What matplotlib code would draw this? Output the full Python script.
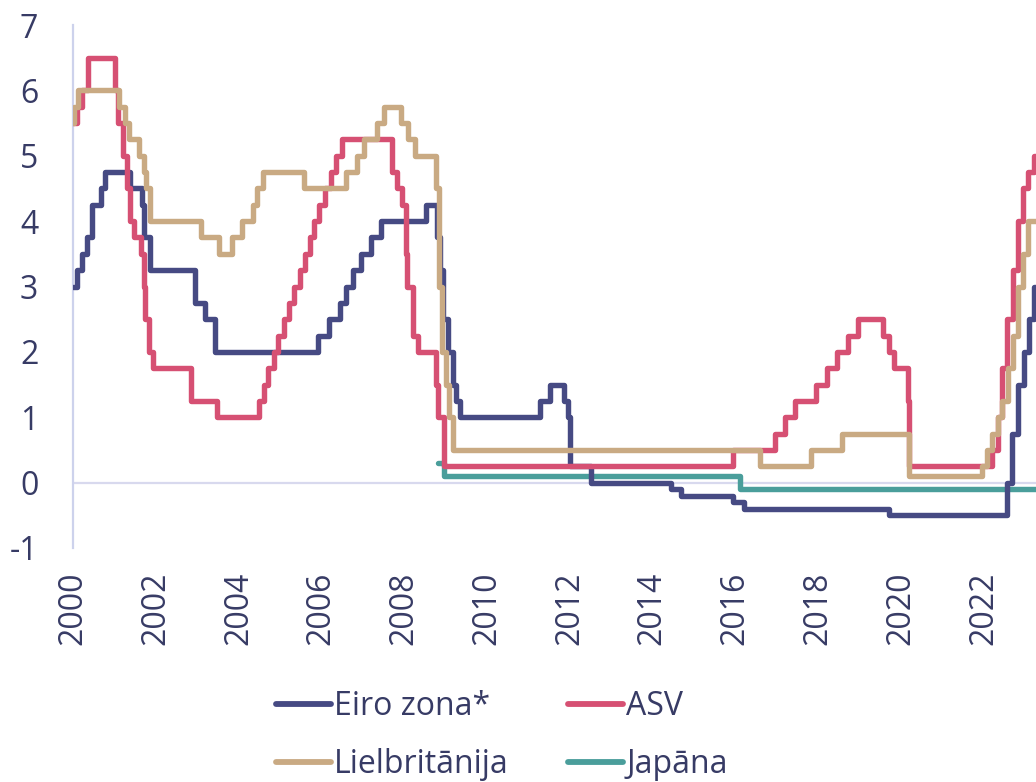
import matplotlib
matplotlib.use("Agg")
import matplotlib.pyplot as plt
import pandas as pd

# ---------------- data (policy rate change dates and levels, %) ----------------
euro_dates = ["2000-01-01", "2000-02-09", "2000-03-22", "2000-05-04", "2000-06-15", "2000-09-06",
              "2000-10-11", "2001-05-15", "2001-08-30", "2001-09-18", "2001-11-14", "2002-12-11",
              "2003-03-12", "2003-06-09", "2005-12-06", "2006-03-08", "2006-06-15", "2006-08-09",
              "2006-10-11", "2006-12-13", "2007-03-14", "2007-06-13", "2008-07-09", "2008-10-15",
              "2008-11-12", "2008-12-10", "2009-01-21", "2009-03-11", "2009-04-08", "2009-05-13",
              "2011-04-13", "2011-07-13", "2011-11-09", "2011-12-14", "2012-01-01", "2012-07-11",
              "2014-06-11", "2014-09-10", "2015-12-09", "2016-03-16", "2019-09-18", "2022-07-27",
              "2022-09-14", "2022-11-02", "2022-12-21", "2023-02-08", "2023-03-22"]
euro_rates = [3.0, 3.25, 3.5, 3.75, 4.25, 4.5,
              4.75, 4.5, 4.25, 3.75, 3.25, 2.75,
              2.5, 2.0, 2.25, 2.5, 2.75, 3.0,
              3.25, 3.5, 3.75, 4.0, 4.25, 3.75,
              3.25, 2.5, 2.0, 1.5, 1.25, 1.0,
              1.25, 1.5, 1.25, 1.0, 0.25, 0.0,
              -0.1, -0.2, -0.3, -0.4, -0.5, 0.0,
              0.75, 1.5, 2.0, 2.5, 3.0]

us_dates = ["2000-01-01", "2000-02-02", "2000-03-21", "2000-05-16", "2001-01-03", "2001-01-31",
            "2001-03-20", "2001-04-18", "2001-05-15", "2001-06-27", "2001-08-21", "2001-09-17",
            "2001-10-02", "2001-11-06", "2001-12-11", "2002-11-06", "2003-06-25", "2004-06-30",
            "2004-08-10", "2004-09-21", "2004-11-10", "2004-12-14", "2005-02-02", "2005-03-22",
            "2005-05-03", "2005-06-30", "2005-08-09", "2005-09-20", "2005-11-01", "2005-12-13",
            "2006-01-31", "2006-03-28", "2006-05-10", "2006-06-29", "2007-09-18", "2007-10-31",
            "2007-12-11", "2008-01-22", "2008-01-30", "2008-03-18", "2008-04-30", "2008-10-08",
            "2008-10-29", "2008-12-16", "2015-12-17", "2016-12-15", "2017-03-16", "2017-06-15",
            "2017-12-14", "2018-03-22", "2018-06-14", "2018-09-27", "2018-12-20", "2019-08-01",
            "2019-09-19", "2019-10-31", "2020-03-04", "2020-03-16", "2022-03-17", "2022-05-05",
            "2022-06-16", "2022-07-28", "2022-09-22", "2022-11-03", "2022-12-15", "2023-02-02",
            "2023-03-23"]
us_rates = [5.5, 5.75, 6.0, 6.5, 6.0, 5.5,
            5.0, 4.5, 4.0, 3.75, 3.5, 3.0,
            2.5, 2.0, 1.75, 1.25, 1.0, 1.25,
            1.5, 1.75, 2.0, 2.25, 2.5, 2.75,
            3.0, 3.25, 3.5, 3.75, 4.0, 4.25,
            4.5, 4.75, 5.0, 5.25, 4.75, 4.5,
            4.25, 3.5, 3.0, 2.25, 2.0, 1.5,
            1.0, 0.25, 0.5, 0.75, 1.0, 1.25,
            1.5, 1.75, 2.0, 2.25, 2.5, 2.25,
            2.0, 1.75, 1.25, 0.25, 0.5, 1.0,
            1.75, 2.5, 3.25, 4.0, 4.5, 4.75,
            5.0]

uk_dates = ["2000-01-01", "2000-01-13", "2000-02-10", "2001-02-08", "2001-04-05", "2001-05-10",
            "2001-08-02", "2001-09-18", "2001-10-04", "2001-11-08", "2003-02-06", "2003-07-10",
            "2003-11-06", "2004-02-05", "2004-05-06", "2004-06-10", "2004-08-05", "2005-08-04",
            "2006-08-03", "2006-11-09", "2007-01-11", "2007-05-10", "2007-07-05", "2007-12-06",
            "2008-02-07", "2008-04-10", "2008-10-08", "2008-11-06", "2008-12-04", "2009-01-08",
            "2009-02-05", "2009-03-05", "2016-08-04", "2017-11-02", "2018-08-02", "2020-03-11",
            "2020-03-19", "2021-12-16", "2022-02-03", "2022-03-17", "2022-05-05", "2022-06-16",
            "2022-08-04", "2022-09-22", "2022-11-03", "2022-12-15", "2023-02-02"]
uk_rates = [5.5, 5.75, 6.0, 5.75, 5.5, 5.25,
            5.0, 4.75, 4.5, 4.0, 3.75, 3.5,
            3.75, 4.0, 4.25, 4.5, 4.75, 4.5,
            4.75, 5.0, 5.25, 5.5, 5.75, 5.5,
            5.25, 5.0, 4.5, 3.0, 2.0, 1.5,
            1.0, 0.5, 0.25, 0.5, 0.75, 0.25,
            0.1, 0.25, 0.5, 0.75, 1.0, 1.25,
            1.75, 2.25, 3.0, 3.5, 4.0]

jp_dates = ["2008-10-31", "2008-12-19", "2016-02-16"]
jp_rates = [0.3, 0.1, -0.1]

end_date = "2023-05-01"

labels = ["Eiro zona*", "ASV", "Lielbritānija", "Japāna"]
colors = ["#464a83", "#d65073", "#c9aa83", "#4a9e9b"]
year_ticks = list(range(2000, 2023, 2))
y_ticks = list(range(-1, 8))

TEXT = "#373b65"


def dec_year(s):
    t = pd.Timestamp(s)
    days = 366 if t.is_leap_year else 365
    return t.year + (t.dayofyear - 1) / days


def series(dates, rates):
    x = [dec_year(d) for d in dates] + [dec_year(end_date)]
    y = list(rates) + [rates[-1]]
    return x, y


plt.rcParams['font.family'] = ['Open Sans', 'DejaVu Sans']

fig = plt.figure(figsize=(10.36, 7.82), dpi=100)
ax = fig.add_axes([73 / 1036, 1 - 548 / 782, 1 - 73 / 1036, (548 - 25) / 782])

ax.axhline(0, color="#d8d9ee", lw=1.6, zorder=1)

data = [(euro_dates, euro_rates), (us_dates, us_rates), (uk_dates, uk_rates), (jp_dates, jp_rates)]
zorders = [3, 4, 5, 2]
handles = []
for (d, r), lab, c, z in zip(data, labels, colors, zorders):
    x, y = series(d, r)
    h, = ax.step(x, y, where="post", color=c, lw=3.9, label=lab, zorder=z,
                 solid_capstyle="round", solid_joinstyle="round")
    handles.append(h)

ax.set_xlim(2000, 2023.27)
ax.set_ylim(-1, 7)
ax.set_xticks(year_ticks)
ax.set_xticklabels([str(v) for v in year_ticks], rotation=90)
ax.set_yticks(y_ticks)
ax.set_yticklabels([str(v) for v in y_ticks])
ax.tick_params(axis="both", length=0, labelsize=23, colors=TEXT)
ax.tick_params(axis="y", pad=25)
ax.tick_params(axis="x", pad=17)

for s in ["top", "right", "bottom"]:
    ax.spines[s].set_visible(False)
ax.spines["left"].set_color("#cdd2ec")
ax.spines["left"].set_linewidth(1.6)

order = [0, 2, 1, 3]
leg = fig.legend([handles[i] for i in order], [labels[i] for i in order],
                 loc="upper left", bbox_to_anchor=(276 / 1036, 1 - 690 / 782),
                 ncol=2, frameon=False, fontsize=23, labelcolor=TEXT,
                 handlelength=1.72, handletextpad=0.1, columnspacing=1.85,
                 labelspacing=0.78, borderpad=0, borderaxespad=0)
for lh in leg.get_lines():
    lh.set_linewidth(4.2)
    lh.set_solid_capstyle("round")

fig.savefig("out.png", dpi=100)
